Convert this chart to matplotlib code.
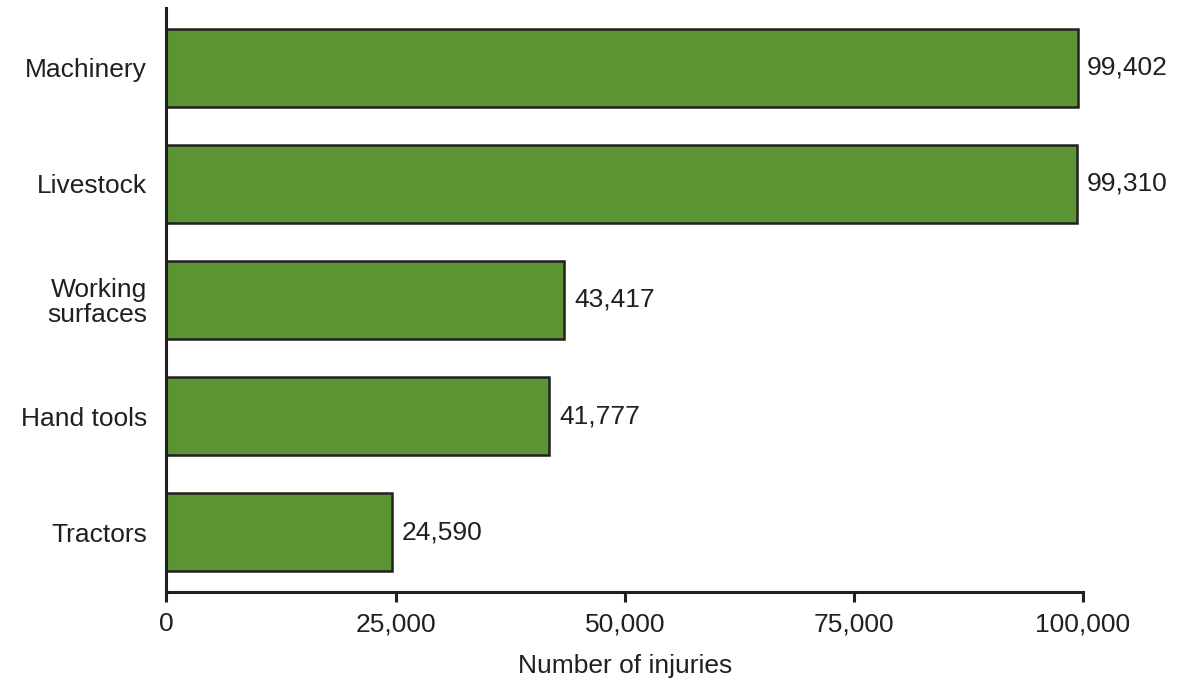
import matplotlib
matplotlib.use("Agg")
import matplotlib.pyplot as plt

categories = ["Tractors", "Hand tools", "Working\nsurfaces", "Livestock", "Machinery"]
injuries = [24590, 41777, 43417, 99310, 99402]
xticks = [0, 25000, 50000, 75000, 100000]
xtick_labels = ["0", "25,000", "50,000", "75,000", "100,000"]

plt.rcParams['font.family'] = ['Liberation Sans', 'DejaVu Sans']
txt = '#231f20'
fs = 19
fig = plt.figure(figsize=(11.88, 6.81), dpi=100)
ax = fig.add_axes([166.5/1188, 1-592/681, (1083-166.5)/1188, (592-8)/681])

ys = list(range(len(categories)))
ax.barh(ys, injuries, height=0.67, color='#5b9433', edgecolor=txt, linewidth=1.8)
for y, v in zip(ys, injuries):
    ax.annotate(f"{v:,}", xy=(v, y), xytext=(7, 0), textcoords='offset points',
                va='center', ha='left', fontsize=fs, color=txt)

ax.set_xlim(0, 100000)
ax.set_ylim(-0.517, 4.517)
ax.set_yticks(ys)
ax.set_yticklabels(categories, fontsize=fs, color=txt, linespacing=1.05)
ax.set_xticks(xticks)
ax.set_xticklabels(xtick_labels, fontsize=fs, color=txt)
ax.tick_params(axis='y', length=0, pad=14)
ax.tick_params(axis='x', length=7, width=2.2, color=txt, pad=7.5)
ax.set_xlabel("Number of injuries", fontsize=fs, color=txt, labelpad=12.5)
for s in ['top', 'right']:
    ax.spines[s].set_visible(False)
for s in ['left', 'bottom']:
    ax.spines[s].set_linewidth(2.2)
    ax.spines[s].set_color(txt)

fig.savefig("out.png", dpi=100)
